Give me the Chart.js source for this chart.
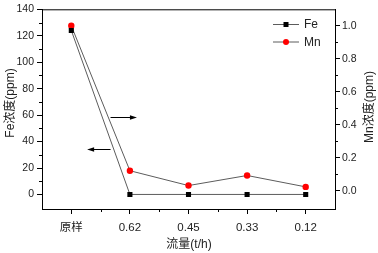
<!DOCTYPE html>
<html>
<head>
<meta charset="utf-8">
<script src="https://cdn.jsdelivr.net/npm/chart.js@4/dist/chart.umd.min.js"></script>
<style>
  html, body { margin: 0; padding: 0; background: #fff; }
  #wrap { width: 378px; height: 253px; }
</style>
</head>
<body>
<div id="wrap"><canvas id="flowChart"></canvas></div>
<script>
const categories = ['原样', '0.62', '0.45', '0.33', '0.12'];
const feValues = [124, 0, 0, 0, 0];
const mnValues = [1.0, 0.122, 0.032, 0.093, 0.024];
const feTicks = [0, 20, 40, 60, 80, 100, 120, 140];
const mnTicks = [0, 0.2, 0.4, 0.6, 0.8, 1.0];
const feMinor = [10, 30, 50, 70, 90, 110, 130];
const mnMinor = [0.1, 0.3, 0.5, 0.7, 0.9];

const LINE = '#5c5c5c';
const TXT = '#222';
const tickFont = { family: "'Liberation Sans', Arial, sans-serif", size: 10.5 };
const cjk = "'Liberation Sans', 'Noto Sans CJK SC', sans-serif";

// frame, minor ticks, arrows, legend, axis titles
const decor = {
    id: 'decor',
    afterDraw(chart) {
        const { ctx, chartArea: a, scales } = chart;
        const x = scales.x, yl = scales.yFe, yr = scales.yMn;
        ctx.save();
        ctx.strokeStyle = '#000';
        ctx.lineWidth = 1;
        ctx.strokeRect(a.left + 0.5, a.top + 0.5, a.right - a.left, a.bottom - a.top);

        ctx.beginPath();
        feMinor.forEach(v => {
            const py = Math.round(yl.getPixelForValue(v)) + 0.5;
            ctx.moveTo(a.left, py); ctx.lineTo(a.left - 3, py);
        });
        mnMinor.forEach(v => {
            const py = Math.round(yr.getPixelForValue(v)) + 0.5;
            ctx.moveTo(a.right, py); ctx.lineTo(a.right + 3, py);
        });
        const half = (x.getPixelForValue(1) - x.getPixelForValue(0)) / 2;
        categories.forEach((c, i) => {
            const px = Math.round(x.getPixelForValue(i) + half) + 0.5;
            if (px < a.right - 1) { ctx.moveTo(px, a.bottom); ctx.lineTo(px, a.bottom + 3); }
        });
        ctx.stroke();

        // arrows pointing to each axis
        const arrow = (x0, x1, yv, scaleY) => {
            const p0 = x.getPixelForValue(x0), p1 = x.getPixelForValue(x1);
            const py = Math.round(scaleY.getPixelForValue(yv)) + 0.5;
            const dir = Math.sign(p1 - p0);
            ctx.beginPath();
            ctx.moveTo(p0, py); ctx.lineTo(p1 - dir * 5, py);
            ctx.stroke();
            ctx.beginPath();
            ctx.moveTo(p1, py);
            ctx.lineTo(p1 - dir * 7, py - 2.2);
            ctx.lineTo(p1 - dir * 7, py + 2.2);
            ctx.closePath();
            ctx.fillStyle = '#000';
            ctx.fill();
        };
        arrow(0.67, 0.27, 34, yl);
        arrow(0.67, 1.12, 0.45, yr);

        // legend
        const items = chart.data.datasets;
        items.forEach((ds, i) => {
            const ly = 24 + i * 17.5;
            ctx.strokeStyle = LINE;
            ctx.beginPath();
            ctx.moveTo(273, ly + 0.5); ctx.lineTo(299, ly + 0.5);
            ctx.stroke();
            ctx.fillStyle = ds.pointBackgroundColor;
            if (ds.pointStyle === 'rect') {
                ctx.fillRect(283.5, ly - 2, 5, 5);
            } else {
                ctx.beginPath(); ctx.arc(286, ly + 0.5, 3, 0, Math.PI * 2); ctx.fill();
            }
            ctx.fillStyle = TXT;
            ctx.font = "12px 'Liberation Sans', Arial, sans-serif";
            ctx.textAlign = 'left';
            ctx.textBaseline = 'middle';
            ctx.fillText(ds.label, 304, ly + 1);
        });

        // axis titles
        ctx.fillStyle = TXT;
        ctx.font = '12px ' + cjk;
        ctx.textAlign = 'center';
        ctx.textBaseline = 'middle';
        ctx.fillText('流量(t/h)', 189, 245);
        ctx.save();
        ctx.translate(11, 103);
        ctx.rotate(-Math.PI / 2);
        ctx.fillText('Fe浓度(ppm)', 0, 0);
        ctx.restore();
        ctx.save();
        ctx.translate(370, 107);
        ctx.rotate(-Math.PI / 2);
        ctx.fillText('Mn浓度(ppm)', 0, 0);
        ctx.restore();
        ctx.restore();
    }
};

const ctx = document.getElementById('flowChart').getContext('2d');
new Chart(ctx, {
    type: 'line',
    data: {
        labels: categories,
        datasets: [{
            label: 'Fe',
            data: feValues,
            yAxisID: 'yFe',
            borderColor: LINE,
            borderWidth: 1,
            pointStyle: 'rect',
            pointRadius: 3.6,
            pointBackgroundColor: '#000',
            pointBorderColor: '#000',
            pointBorderWidth: 0,
            tension: 0,
        }, {
            label: 'Mn',
            data: mnValues,
            yAxisID: 'yMn',
            borderColor: LINE,
            borderWidth: 1,
            pointStyle: 'circle',
            pointRadius: 3.2,
            pointBackgroundColor: '#ff0000',
            pointBorderColor: '#ff0000',
            pointBorderWidth: 0,
            tension: 0,
        }],
    },
    options: {
        responsive: true,
        maintainAspectRatio: false,
        animation: false,
        layout: { padding: { top: 6, left: 0, right: 0, bottom: 0 } },
        plugins: { legend: { display: false }, tooltip: { enabled: false } },
        scales: {
            x: {
                type: 'category',
                offset: true,
                border: { color: '#000', width: 1 },
                grid: { drawOnChartArea: false, tickLength: 5, color: '#000' },
                ticks: { color: TXT, padding: 7, font: { family: cjk, size: 11.5 }, maxRotation: 0 },
                afterFit: s => { s.height = 44; },
            },
            yFe: {
                position: 'left',
                min: -11, max: 140,
                afterBuildTicks: s => { s.ticks = feTicks.map(v => ({ value: v })); },
                border: { color: '#000', width: 1 },
                grid: { drawOnChartArea: false, tickLength: 5, color: '#000' },
                ticks: { color: TXT, padding: 3, font: tickFont },
                afterFit: s => { s.width = 42; },
            },
            yMn: {
                position: 'right',
                min: -0.11, max: 1.1,
                afterBuildTicks: s => { s.ticks = mnTicks.map(v => ({ value: v })); },
                border: { color: '#000', width: 1 },
                grid: { drawOnChartArea: false, tickLength: 5, color: '#000' },
                ticks: { color: TXT, padding: 2, font: tickFont, callback: v => v.toFixed(1) },
                afterFit: s => { s.width = 43; },
            },
        },
    },
    plugins: [decor],
});
</script>
</body>
</html>
